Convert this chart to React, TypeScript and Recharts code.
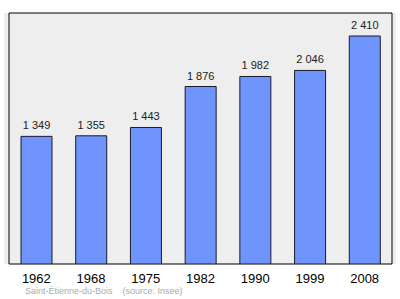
import { BarChart, Bar, XAxis, YAxis, CartesianGrid, ReferenceArea, LabelList } from "recharts";

// années des recensements
const years = ["1962", "1968", "1975", "1982", "1990", "1999", "2008"];
const population = [1349, 1355, 1443, 1876, 1982, 2046, 2410];

const Y_MAX = 2653;

const data = years.map((year, i) => ({ year, population: population[i] }));

// espace insécable pour que le libellé ne se coupe pas
const fmt = (v: number) => String(v).replace(/\B(?=(\d{3})+(?!\d))/g, "\u00a0");

export default function App() {
  return (
    <div style={{ position: "absolute", left: 0, top: 0, width: 400, height: 299, background: "#fff", fontFamily: "Liberation Sans, Arial, sans-serif" }}>
      <BarChart width={400} height={299} data={data} margin={{ top: 13, right: 4, bottom: 5, left: 4 }}>
        <CartesianGrid horizontal={false} vertical={false} fill="#eeeeee" />
        <ReferenceArea y1={0} y2={Y_MAX} fill="none" stroke="#000" strokeWidth={1} />
        <XAxis
          dataKey="year"
          axisLine={false}
          tickLine={false}
          height={30}
          padding={{ left: 5, right: 4 }}
          tick={{ fill: "#000", fontSize: 13, fontFamily: "Liberation Sans, Arial, sans-serif" }}
          tickMargin={4}
        />
        <YAxis hide domain={[0, Y_MAX]} allowDataOverflow />
        <Bar dataKey="population" fill="#6f94fc" stroke="#1a1a2e" strokeWidth={1} barSize={31} isAnimationActive={false}>
          <LabelList
            dataKey="population"
            position="top"
            offset={7}
            formatter={(v: any) => fmt(Number(v))}
            style={{ fill: "#222", fontSize: 11, fontFamily: "Liberation Sans, Arial, sans-serif" }}
          />
        </Bar>
      </BarChart>
      <div style={{ position: "absolute", left: 25, top: 286, fontSize: 9, color: "#aaaaaa", whiteSpace: "pre" }}>
        {"Saint-Étienne-du-Bois    (source: Insee)"}
      </div>
    </div>
  );
}
